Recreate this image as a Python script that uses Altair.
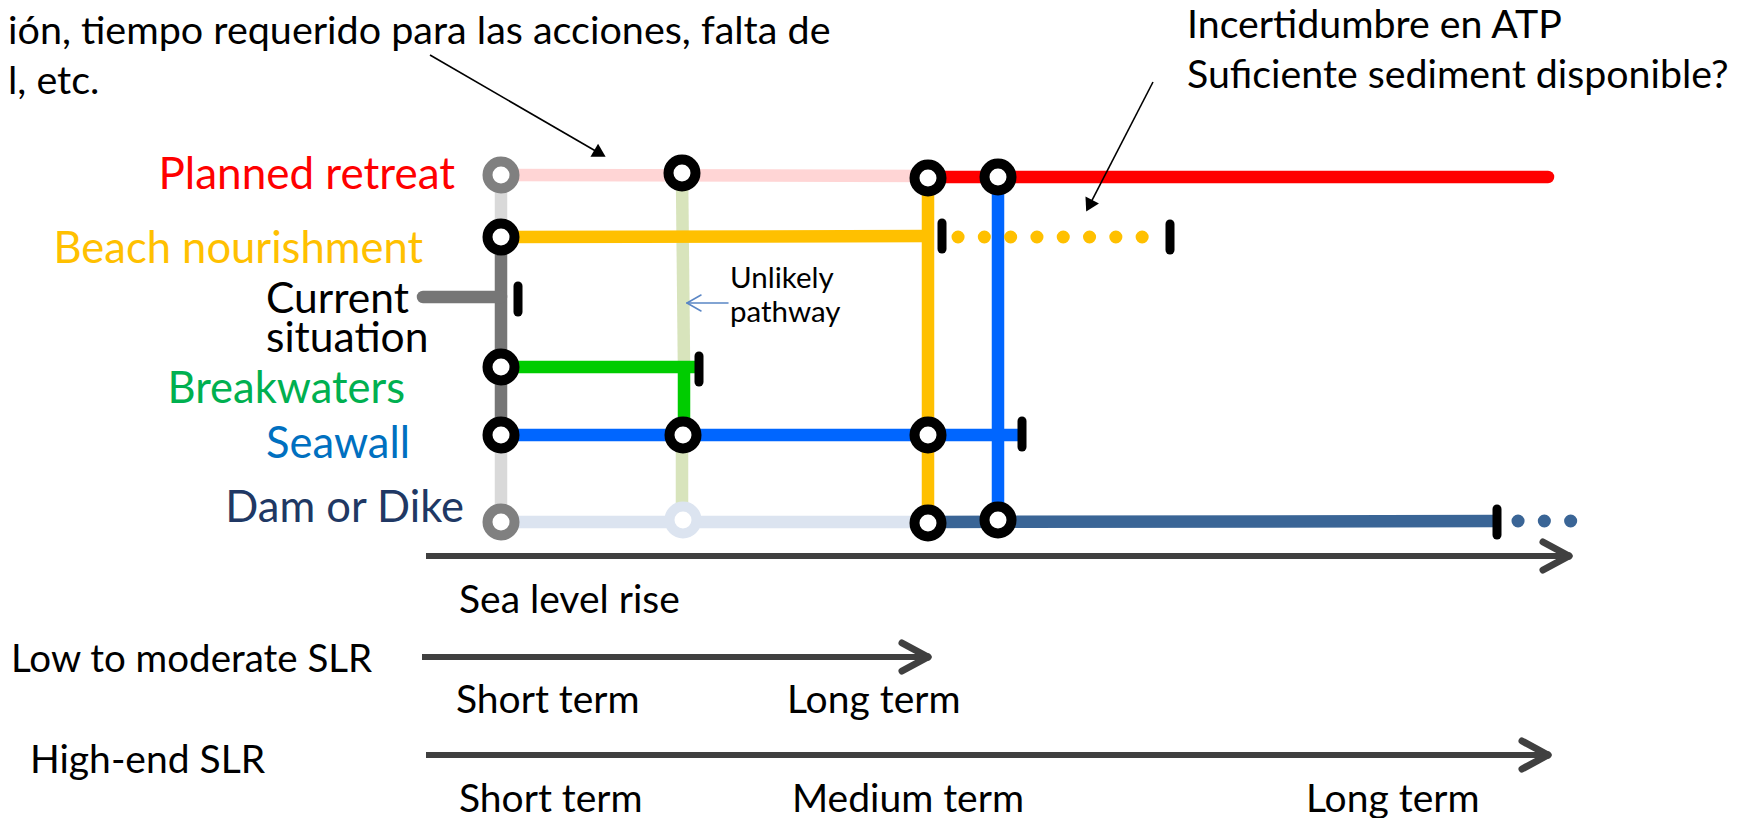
import math
import altair as alt
import pandas as pd

# ---------------- data (reference-pixel coordinate system) ----------------
# decision-point columns (x) and pathway rows (y)
col_x = [501, 682, 928, 998]
row_names = ["Planned retreat", "Beach nourishment", "Current situation", "Breakwaters", "Seawall", "Dam or Dike"]
row_y = [175, 237, 297, 367, 435, 522]

# solid route segments: x1, y1, x2, y2, style
seg_butt = [
    (501, 175, 501, 237, "lightgray"),
    (501, 237, 501, 435, "darkgray"),
    (501, 435, 501, 522, "lightgray"),
    (682, 175, 684, 367, "palegreen"),
    (682, 435, 682, 522, "palegreen"),
    (928, 178, 928, 522, "yellow"),
    (998, 178, 998, 522, "blue"),
    (501, 175, 928, 176, "pink"),
    (501, 237, 928, 236, "yellow"),
    (501, 367, 700, 367, "green"),
    (684, 367, 684, 435, "green"),
    (501, 435, 1022, 435, "blue"),
    (501, 522, 928, 522, "paleblue"),
    (928, 522, 1497, 521, "navy"),
]
seg_round = [
    (423, 297, 501, 297, "darkgray"),
    (928, 177, 1548, 177, "red"),
]
# dotted continuations
seg_dotted = [
    (958, 237, 1168, 237, "yellow"),
    (1518, 521, 1571, 521, "navy"),
]
# transfer stations (circles): x, y, ring style
stations = [
    (501, 175, "gray"), (501, 237, "black"), (501, 367, "black"), (501, 435, "black"),
    (501, 522, "gray"), (682, 173, "black"), (683, 435, "black"), (683, 520, "paleblue"),
    (928, 178, "black"), (998, 177, "black"), (928, 435, "black"), (928, 523, "black"),
    (998, 520, "black"),
]
# tipping points (end bars): x, y
tipping = [(518, 299), (699, 369), (942, 236), (1170, 237), (1022, 434), (1497, 522)]

# timeline arrows: x start, x tip, y
timeline = [(426, 1569, 556), (422, 928, 657), (426, 1548, 755)]
# annotation arrows: x from, y from, x to, y to
annot = [(430, 55, 606, 157), (1153, 82, 1086, 212)]

# texts: label, x, y(baseline), colour, size
text_left = [
    ("ión, tiempo requerido para las acciones, falta de", 8, 44, "#000000", 39.5),
    ("l, etc.", 8, 94, "#000000", 39.5),
    ("Incertidumbre en ATP", 1187, 38, "#000000", 39.3),
    ("Suficiente sediment disponible?", 1187, 88, "#000000", 39.3),
    ("Current", 266, 313, "#000000", 42.5),
    ("situation", 266, 352, "#000000", 42.5),
    ("Unlikely", 730, 288, "#000000", 29.5),
    ("pathway", 730, 322, "#000000", 29.5),
    ("Sea level rise", 459, 613, "#000000", 39),
    ("Low to moderate SLR", 11, 672, "#000000", 38.5),
    ("Short term", 456, 713, "#000000", 39),
    ("Long term", 787, 713, "#000000", 39),
    ("High-end SLR", 30, 773, "#000000", 39),
    ("Short term", 459, 812, "#000000", 39),
    ("Medium term", 792, 812, "#000000", 39),
    ("Long term", 1306, 812, "#000000", 39),
]
text_right = [
    ("Planned retreat", 455, 189, "#FF0000", 44),
    ("Beach nourishment", 423, 263, "#FFC000", 43.5),
    ("Breakwaters", 405, 403, "#00B050", 43.5),
    ("Seawall", 410, 458, "#0070C0", 43.5),
    ("Dam or Dike", 464, 522, "#203864", 43.5),
]

# ---------------- styles ----------------
STYLE = {
    "lightgray": "#D9D9D9", "darkgray": "#767676", "palegreen": "#D8E4BC",
    "green": "#00CC00", "yellow": "#FFC000", "blue": "#0066FF", "pink": "#FFD5D5",
    "red": "#FF0000", "paleblue": "#DCE4F0", "navy": "#3A6596",
    "gray": "#808080", "black": "#000000",
}
FONT = "Lato"
W, H = 1724, 810
XS = alt.Scale(domain=[8, 8 + W], nice=False, zero=False)
YS = alt.Scale(domain=[8, 8 + H], nice=False, zero=False, reverse=True)


def seg_df(rows):
    return pd.DataFrame([{"x": a, "y": b, "x2": c, "y2": d, "c": STYLE[s]} for a, b, c, d, s in rows])


def enc_seg():
    return dict(
        x=alt.X("x:Q", scale=XS, axis=None), y=alt.Y("y:Q", scale=YS, axis=None),
        x2=alt.X2("x2:Q"), y2=alt.Y2("y2:Q"),
        color=alt.Color("c:N", scale=None),
    )


layers = []
layers.append(alt.Chart(seg_df(seg_butt)).mark_rule(strokeWidth=12.5, strokeCap="butt").encode(**enc_seg()))
layers.append(alt.Chart(seg_df(seg_round)).mark_rule(strokeWidth=12.5, strokeCap="round").encode(**enc_seg()))
layers.append(alt.Chart(seg_df(seg_dotted)).mark_rule(strokeWidth=13, strokeCap="round",
                                                       strokeDash=[0.1, 26.2]).encode(**enc_seg()))

st_df = pd.DataFrame([{"x": a, "y": b, "c": STYLE[s]} for a, b, s in stations])
layers.append(alt.Chart(st_df).mark_point(shape="circle", size=729, strokeWidth=10, opacity=1).encode(
    x=alt.X("x:Q", scale=XS, axis=None), y=alt.Y("y:Q", scale=YS, axis=None),
    stroke=alt.Stroke("c:N", scale=None), fill=alt.value("white")))

tp_df = pd.DataFrame([{"x": a, "y": b - 13, "x2": a, "y2": b + 13, "c": "#000000"} for a, b in tipping])
layers.append(alt.Chart(tp_df).mark_rule(strokeWidth=9, strokeCap="round").encode(**enc_seg()))

# timeline arrows (shaft + open chevron head)
arrow_rows = []
for x0, x1, y in timeline:
    arrow_rows.append({"x": x0, "y": y, "x2": x1 - 3, "y2": y, "c": "#404040"})
    arrow_rows.append({"x": x1 - 26, "y": y - 14, "x2": x1, "y2": y, "c": "#404040"})
    arrow_rows.append({"x": x1 - 26, "y": y + 14, "x2": x1, "y2": y, "c": "#404040"})
layers.append(alt.Chart(pd.DataFrame(arrow_rows[0::3])).mark_rule(strokeWidth=6, strokeCap="butt").encode(**enc_seg()))
heads = [r for i, r in enumerate(arrow_rows) if i % 3]
layers.append(alt.Chart(pd.DataFrame(heads)).mark_rule(strokeWidth=7, strokeCap="round").encode(**enc_seg()))

# unlikely-pathway pointer (thin blue, open head)
ul = [
    {"x": 728, "y": 303, "x2": 687, "y2": 303, "c": "#5A86C5"},
    {"x": 701, "y": 295, "x2": 687, "y2": 303, "c": "#5A86C5"},
    {"x": 701, "y": 311, "x2": 687, "y2": 303, "c": "#5A86C5"},
]
layers.append(alt.Chart(pd.DataFrame(ul)).mark_rule(strokeWidth=1.5, strokeCap="round").encode(**enc_seg()))

# annotation arrows (thin black line + filled triangle)
an_lines, an_heads = [], []
for x0, y0, x1, y1 in annot:
    dx, dy = x1 - x0, y1 - y0
    L = math.hypot(dx, dy)
    ux, uy = dx / L, dy / L
    an_lines.append({"x": x0, "y": y0, "x2": x1 - 8 * ux, "y2": y1 - 8 * uy, "c": "#000000"})
    ang = math.degrees(math.atan2(dx, -dy)) % 360
    an_heads.append({"x": x1 - 7 * ux, "y": y1 - 7 * uy, "ang": ang})
layers.append(alt.Chart(pd.DataFrame(an_lines)).mark_rule(strokeWidth=1.6).encode(**enc_seg()))
layers.append(alt.Chart(pd.DataFrame(an_heads)).mark_point(shape="triangle-up", filled=True, size=230,
                                                            color="black", opacity=1).encode(
    x=alt.X("x:Q", scale=XS, axis=None), y=alt.Y("y:Q", scale=YS, axis=None),
    angle=alt.Angle("ang:Q", scale=None)))


def text_layer(rows, align):
    df = pd.DataFrame([{"t": t, "x": x, "y": y, "c": c, "s": s} for t, x, y, c, s in rows])
    return alt.Chart(df).mark_text(align=align, baseline="alphabetic", font=FONT).encode(
        x=alt.X("x:Q", scale=XS, axis=None), y=alt.Y("y:Q", scale=YS, axis=None),
        text="t:N", color=alt.Color("c:N", scale=None), size=alt.Size("s:Q", scale=None))


layers.append(text_layer(text_left, "left"))
layers.append(text_layer(text_right, "right"))

chart = alt.layer(*layers).properties(
    width=W, height=H, padding=0, autosize=alt.AutoSizeParams(type="none"), background="white"
).configure_view(stroke="transparent")

chart.save("out.html", embed_options={"renderer": "svg", "actions": False})
